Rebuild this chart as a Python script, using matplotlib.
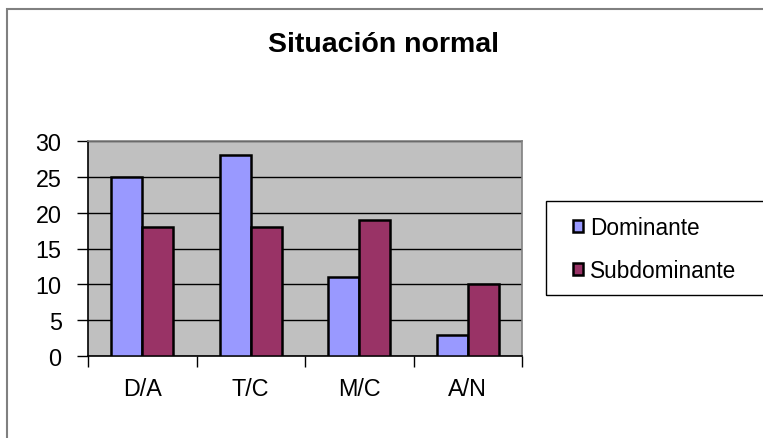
import matplotlib
matplotlib.use("Agg")
import matplotlib.pyplot as plt
import numpy as np
from matplotlib.patches import Rectangle, Patch

categories = ["D/A", "T/C", "M/C", "A/N"]
dominante = [25, 28, 11, 3]
subdominante = [18, 18, 19, 10]
series_names = ["Dominante", "Subdominante"]
yticks = [0, 5, 10, 15, 20, 25, 30]

plt.rcParams['font.family'] = ['Liberation Sans', 'DejaVu Sans']

W, H = 763, 439
fig = plt.figure(figsize=(W / 100, H / 100), dpi=100)
fig.patch.set_facecolor("white")

# outer chart border (top and left visible)
fig.add_artist(Rectangle((7 / W, -0.1), 1.2, 1.1 - 10 / H, transform=fig.transFigure,
                         fill=False, edgecolor="#808080", linewidth=1.5))

ax = fig.add_axes([88 / W, 1 - 357 / H, (522 - 88) / W, (357 - 142) / H])
ax.set_facecolor("#C0C0C0")

x = np.arange(len(categories))
bw = 0.286
ax.bar(x - bw / 2, dominante, bw, color="#9999FF", edgecolor="black", linewidth=1.8, zorder=3)
ax.bar(x + bw / 2, subdominante, bw, color="#993366", edgecolor="black", linewidth=1.8, zorder=3)

ax.set_xlim(-0.5, len(categories) - 0.5)
ax.set_ylim(0, 30)
ax.set_yticks(yticks)
ax.yaxis.grid(True, color="black", linewidth=1.0, zorder=1)
ax.set_axisbelow(True)

ax.set_xticks(np.arange(-0.5, len(categories), 1.0))
ax.set_xticklabels([])
ax.set_xticks(x, minor=True)
ax.set_xticklabels(categories, minor=True)
ax.tick_params(axis="x", which="major", length=8, width=1, color="black", direction="out")
ax.tick_params(axis="x", which="minor", length=0, pad=15, labelsize=16.8)
ax.tick_params(axis="y", length=8, width=1, direction="out", pad=11, labelsize=16.8)

for s in ["left", "bottom"]:
    ax.spines[s].set_color("black")
    ax.spines[s].set_linewidth(1.2)
for s in ["top", "right"]:
    ax.spines[s].set_color("#808080")
    ax.spines[s].set_linewidth(1.2)

fig.text(383 / W, 1 - 52 / H, "Situación normal", ha="center", va="baseline",
         fontsize=20.5, fontweight="bold")

# legend box
fig.add_artist(Rectangle((546 / W, 1 - 296 / H), 0.5, (296 - 202) / H, transform=fig.transFigure,
                         fill=False, edgecolor="black", linewidth=1.0))
handles = [Patch(facecolor="#9999FF", edgecolor="black", linewidth=1.8),
           Patch(facecolor="#993366", edgecolor="black", linewidth=1.8)]
leg = fig.legend(handles, series_names, loc="upper left",
                 bbox_to_anchor=(573 / W, 1 - 217 / H), frameon=False,
                 fontsize=16.3, handlelength=0.45, handleheight=0.45, handletextpad=0.3,
                 labelspacing=0.9, borderpad=0, borderaxespad=0)

fig.savefig("out.png", dpi=100, facecolor="white")
